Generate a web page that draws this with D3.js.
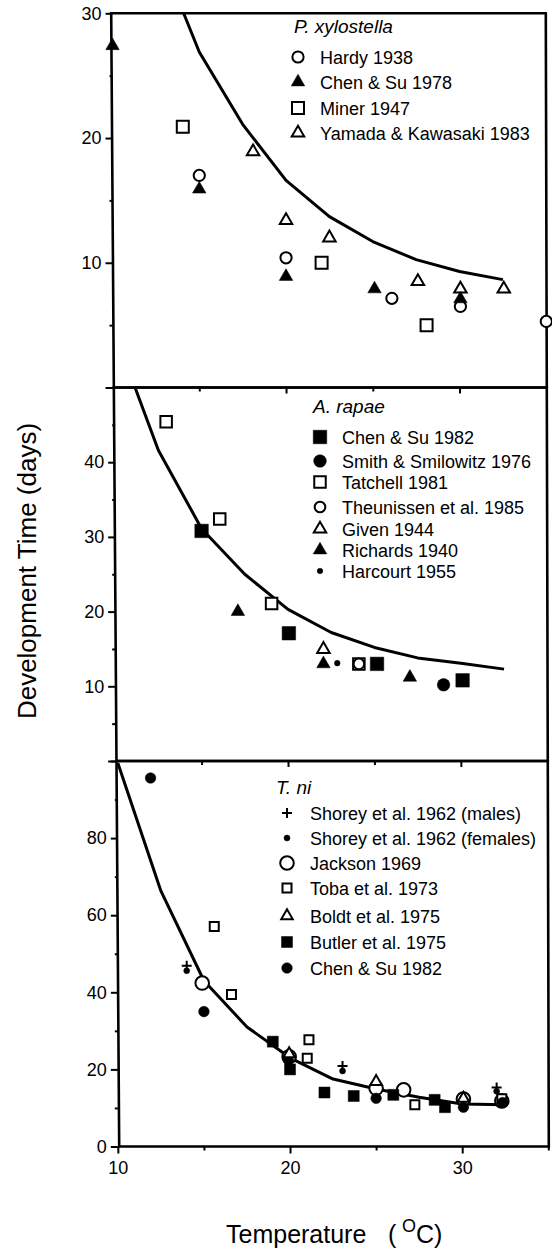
<!DOCTYPE html>
<html><head><meta charset="utf-8">
<script src="https://cdn.jsdelivr.net/npm/d3@7"></script>
<style>
html,body{margin:0;padding:0;background:#fff;}
svg{display:block;}
text{font-family:"Liberation Sans",Arial,Helvetica,sans-serif;fill:#000;}
</style></head><body>
<svg id="chart" width="552" height="1251"></svg>
<script>
// ---------------- DATA ----------------
const xTicksMajor = [10, 20, 30];
const xTicksMinor = [15, 25, 35];

// Panel 1: P. xylostella
const p1Title = "P. xylostella";
const p1Hardy1938   = [[15,17.0],[20,10.4],[26.1,7.15],[30.05,6.5],[35,5.3]];
const p1ChenSu1978  = [[10,27.4],[15,15.9],[20,8.9],[25.1,7.9],[30.05,7.1]];
const p1Miner1947   = [[14.05,20.9],[22.05,10.0],[28.1,5.0]];
const p1Yamada1983  = [[18.1,18.9],[20.0,13.4],[22.5,12.0],[27.6,8.5],[30.05,7.9],[32.55,7.9]];
const p1Curve       = [[14.1,30],[15,26.9],[17.5,21.1],[20,16.6],[22.5,13.7],[25,11.7],[27.5,10.25],[30,9.3],[32.5,8.65]];
const p1YMajor = [0,10,20,30];
const p1YLabels = ["","10","20","30"];
const p1YMinor = [5,15,25];

// Panel 2: A. rapae
const p2Title = "A. rapae";
const p2ChenSu1982     = [[15,30.8],[20.05,17.1],[25.15,13.0],[30.1,10.8]];
const p2Smith1976      = [[29.0,10.2]];
const p2Tatchell1981   = [[12.95,45.4],[16.05,32.4],[19.05,21.1],[24.1,13.0]];
const p2Theunissen1985 = [[24.1,13.0]];
const p2Given1944      = [[22.05,14.95]];
const p2Richards1940   = [[17.1,20.0],[22.05,13.0],[27.05,11.2]];
const p2Harcourt1955   = [[22.85,13.1]];
const p2Curve = [[11.15,50],[12.5,41.6],[15,31.1],[17.5,25.0],[20,20.3],[22.5,17.2],[25,15.2],[27.5,13.8],[30,13.1],[32.5,12.3]];
const p2YMajor = [0,10,20,30,40,50];
const p2YLabels = ["","10","20","30","40",""];
const p2YMinor = [5,15,25,35,45];

// Panel 3: T. ni
const p3Title = "T. ni";
const p3ShoreyM   = [[14.0,46.9],[23.05,20.9],[32.0,15.3]];
const p3ShoreyF   = [[14.0,45.6],[23.05,19.6],[32.0,14.3]];
const p3Jackson   = [[14.9,42.4],[19.95,23.3],[25.0,15.1],[26.6,14.7],[30.07,12.3],[32.3,11.8]];
const p3Toba      = [[15.6,57.1],[16.6,39.4],[21.1,27.7],[21.0,22.9],[27.25,10.8],[32.3,12.4]];
const p3Boldt     = [[19.95,24.0],[25.0,16.8],[30.07,12.5]];
const p3Butler    = [[19.0,27.2],[20.0,20.0],[22.0,14.0],[23.7,13.1],[26.0,13.4],[28.4,12.1],[29.0,10.2]];
const p3ChenSu    = [[11.9,95.6],[15.0,35.0],[19.9,22.5],[25.0,12.5],[30.07,10.2],[32.35,11.4]];
const p3Curve = [[10,99.5],[12.5,66.3],[15,43.0],[17.5,31.0],[20,23.0],[22.5,17.5],[25,14.9],[27.5,12.8],[30,11.0],[32.5,10.8]];
const p3YMajor = [0,20,40,60,80,100];
const p3YLabels = ["0","20","40","60","80",""];
const p3YMinor = [10,30,50,70,90];

// ---------------- STYLE / LAYOUT ----------------
// the scanned frame is slightly tilted: left/right edges drift with height
const leftX  = yy => 111.2 + (yy - 13.3) * (119.2 - 111.2) / (1146.5 - 13.3);
const rightX = yy => 545.8 + (yy - 13.3) * (548.8 - 545.8) / (1146.5 - 13.3);

const panels = [
  { title: p1Title, yTop: 13.3, yBot: 387.5, yMax: 30,
    yMajor: p1YMajor, yLabels: p1YLabels, yMinor: p1YMinor, curve: p1Curve,
    titleY: 33, titleX: 294, legX: 298, legTX: 320, rows: [57,82,108,133],
    series: [
      {name:"Hardy 1938", sym:"circle", fill:false, s:5.6, data:p1Hardy1938},
      {name:"Chen & Su 1978", sym:"triangle", fill:true, s:13.5, data:p1ChenSu1978},
      {name:"Miner 1947", sym:"square", fill:false, s:12, data:p1Miner1947},
      {name:"Yamada & Kawasaki 1983", sym:"triangle", fill:false, s:12.5, data:p1Yamada1983}
    ], drawOrder:[2,3,0,1] },
  { title: p2Title, yTop: 387.5, yBot: 761, yMax: 50,
    yMajor: p2YMajor, yLabels: p2YLabels, yMinor: p2YMinor, curve: p2Curve,
    titleY: 413, titleX: 313, legX: 320, legTX: 342, rows: [437,461,482,507,529,550,571],
    series: [
      {name:"Chen & Su 1982", sym:"square", fill:true, s:13.5, data:p2ChenSu1982},
      {name:"Smith & Smilowitz 1976", sym:"circle", fill:true, s:6.3, data:p2Smith1976},
      {name:"Tatchell 1981", sym:"square", fill:false, s:11.5, data:p2Tatchell1981},
      {name:"Theunissen et al. 1985", sym:"circle", fill:false, s:5.3, data:p2Theunissen1985},
      {name:"Given 1944", sym:"triangle", fill:false, s:12.5, data:p2Given1944},
      {name:"Richards 1940", sym:"triangle", fill:true, s:13.5, data:p2Richards1940},
      {name:"Harcourt 1955", sym:"dot", fill:true, s:2.8, data:p2Harcourt1955}
    ], drawOrder:[0,1,2,3,4,5,6] },
  { title: p3Title, yTop: 761, yBot: 1146.5, yMax: 100,
    yMajor: p3YMajor, yLabels: p3YLabels, yMinor: p3YMinor, curve: p3Curve,
    titleY: 794, titleX: 276, legX: 287, legTX: 310, rows: [813,838,863,888,916,942,968],
    series: [
      {name:"Shorey et al. 1962 (males)", sym:"plus", fill:false, s:5, data:p3ShoreyM},
      {name:"Shorey et al. 1962 (females)", sym:"dot", fill:true, s:3, data:p3ShoreyF},
      {name:"Jackson 1969", sym:"circle", fill:false, s:6.8, data:p3Jackson},
      {name:"Toba et al. 1973", sym:"square", fill:false, s:9, data:p3Toba},
      {name:"Boldt et al. 1975", sym:"triangle", fill:false, s:11.5, data:p3Boldt},
      {name:"Butler et al. 1975", sym:"square", fill:true, s:11, data:p3Butler},
      {name:"Chen & Su 1982", sym:"circle", fill:true, s:5.3, data:p3ChenSu}
    ], drawOrder:[2,3,5,6,4,1,0] }
];

const svg = d3.select("#chart");

function symPath(sym, s) {
  if (sym === "circle" || sym === "dot") return d3.symbol(d3.symbolCircle, Math.PI*s*s)();
  if (sym === "square") return d3.symbol(d3.symbolSquare, s*s)();
  if (sym === "triangle") return d3.symbol(d3.symbolTriangle, Math.sqrt(3)/4*s*s)();
  if (sym === "plus") return `M${-s},0H${s}M0,${-s}V${s}`;
}
function drawMarker(g, sym, fill, s, x, y) {
  const p = g.append("path").attr("d", symPath(sym, s))
    .attr("transform", `translate(${x},${y})`);
  if (sym === "plus") p.attr("fill","none").attr("stroke","#000").attr("stroke-width",2);
  else if (fill) p.attr("fill","#000").attr("stroke","#000").attr("stroke-width",0.5);
  else p.attr("fill","#fff").attr("stroke","#000").attr("stroke-width",2);
}
const fontFam = "'Liberation Sans',Arial,sans-serif";

panels.forEach((P, i) => {
  const yMid = (P.yTop + P.yBot) / 2;
  const x0 = leftX(yMid), x1 = rightX(yMid);
  const x = d3.scaleLinear().domain([10,35]).range([x0, x1]);
  const y = d3.scaleLinear().domain([0,P.yMax]).range([P.yBot, P.yTop]);
  const g = svg.append("g");

  // y minor ticks
  g.append("g").attr("transform",`translate(${x0},0)`)
    .call(d3.axisLeft(y).tickValues(P.yMinor).tickSize(3).tickFormat(""))
    .call(a => { a.select(".domain").remove(); a.selectAll("line").attr("stroke-width",2); });
  // y major ticks
  g.append("g").attr("transform",`translate(${x0},0)`)
    .call(d3.axisLeft(y).tickValues(P.yMajor).tickSize(7).tickPadding(4)
      .tickFormat((d,k) => P.yLabels[k]))
    .call(a => { a.select(".domain").remove(); a.selectAll("line").attr("stroke-width",2);
      a.selectAll("text").style("font-size","18px").style("font-family",fontFam); });

  // x ticks
  if (i < 2) {
    g.append("g").attr("transform",`translate(0,${P.yBot})`)
      .call(d3.axisBottom(x).tickValues([20,30]).tickSize(6).tickFormat(""))
      .call(a => { a.select(".domain").remove(); a.selectAll("line").attr("stroke-width",2); });
    g.append("g").attr("transform",`translate(0,${P.yBot})`)
      .call(d3.axisBottom(x).tickValues([15,25]).tickSize(4).tickFormat(""))
      .call(a => { a.select(".domain").remove(); a.selectAll("line").attr("stroke-width",2); });
  } else {
    g.append("g").attr("transform",`translate(0,${P.yBot})`)
      .call(d3.axisBottom(x).tickValues(xTicksMajor).tickSize(7).tickPadding(8).tickFormat(d3.format("d")))
      .call(a => { a.select(".domain").remove(); a.selectAll("line").attr("stroke-width",2);
        a.selectAll("text").style("font-size","18px").style("font-family",fontFam); });
    g.append("g").attr("transform",`translate(0,${P.yBot})`)
      .call(d3.axisBottom(x).tickValues(xTicksMinor).tickSize(4).tickFormat(""))
      .call(a => { a.select(".domain").remove(); a.selectAll("line").attr("stroke-width",2); });
  }

  // frame (slightly tilted like the scan)
  const frame = [[leftX(P.yTop),P.yTop],[rightX(P.yTop),P.yTop],[rightX(P.yBot),P.yBot],[leftX(P.yBot),P.yBot]];
  g.append("path").attr("d", d3.line()(frame) + "Z")
    .attr("fill","none").attr("stroke","#000").attr("stroke-width",2.6).attr("stroke-linejoin","miter");

  // curve
  const clipId = "clip"+i;
  svg.append("clipPath").attr("id",clipId).append("path").attr("d", d3.line()(frame) + "Z");
  g.append("path").datum(P.curve).attr("clip-path",`url(#${clipId})`)
    .attr("d", d3.line().x(d=>x(d[0])).y(d=>y(d[1])))
    .attr("fill","none").attr("stroke","#000").attr("stroke-width",3).attr("stroke-linejoin","round");

  // points
  const pg = g.append("g");
  P.drawOrder.forEach(k => {
    const s = P.series[k];
    s.data.forEach(d => drawMarker(pg, s.sym, s.fill, s.s, x(d[0]), y(d[1])));
  });

  // legend
  g.append("text").attr("x",P.titleX).attr("y",P.titleY).text(P.title)
    .style("font-size","19px").style("font-style","italic");
  P.series.forEach((s,k) => {
    const cy = P.rows[k];
    drawMarker(g, s.sym, s.fill, s.s, P.legX, cy);
    g.append("text").attr("x",P.legTX).attr("y",cy+6.5).text(s.name).style("font-size","18px");
  });
});

// axis titles
const xt = svg.append("text").attr("y",1243).style("font-size","25px");
xt.append("tspan").attr("x",226).text("Temperature");
xt.append("tspan").attr("x",388).text("(");
xt.append("tspan").attr("x",402).attr("dy",-11).style("font-size","18px").text("O");
xt.append("tspan").attr("x",416).attr("dy",11).text("C)");

svg.append("text").attr("transform","translate(36,571) rotate(-90)")
  .attr("text-anchor","middle").style("font-size","26px").text("Development Time (days)");
</script>
</body></html>
